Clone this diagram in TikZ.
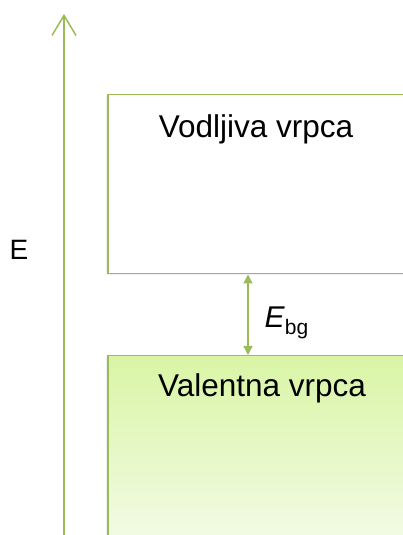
\documentclass[tikz,border=0pt]{standalone}
\usepackage{fontspec}
\setmainfont{Liberation Sans}
\usetikzlibrary{arrows.meta,shadows}
\definecolor{bandline}{RGB}{155,187,89}
\definecolor{valtop}{RGB}{217,245,165}
\definecolor{valbot}{RGB}{244,252,234}
\tikzset{
  band/.style={draw=bandline, line width=1.5pt, anchor=north west, inner sep=0pt,
    drop shadow={opacity=0.12, shadow xshift=-1.5pt, shadow yshift=-1.5pt}},
  bandtext/.style={font=\fontsize{31.5}{38}\selectfont},
  gaparrow/.style={draw=bandline, line width=1.3pt, {Triangle[length=9pt,width=9pt]}-{Triangle[length=9pt,width=9pt]}}
}
\begin{document}
\begin{tikzpicture}[x=1pt,y=1pt]
\useasboundingbox (0,0) rectangle (402,535);
% energy axis
\coordinate (axbot) at (64,-2);
\coordinate (axtop) at (64,521);
\draw[bandline, line width=1.5pt, -{Straight Barb[length=20pt,width=24pt,line width=1.5pt]}] (axbot) -- (axtop);
\node[font=\fontsize{28}{34}\selectfont] (elabel) at (19,285) {E};
% bands
\node[band, fill=white, minimum width=310pt, minimum height=179pt] (cond) at (107,441) {};
\node[band, top color=valtop, bottom color=valbot, minimum width=310pt, minimum height=200pt] (val) at (107,180) {};
\node[bandtext] (condtext) at (256,406) {Vodljiva vrpca};
\node[bandtext] (valtext) at (262,147) {Valentna vrpca};
% gap
\coordinate (gapx) at (248,0);
\draw[gaparrow] (cond.south -| gapx) -- (val.north -| gapx);
\node[font=\fontsize{30}{36}\selectfont, anchor=west] (gaplabel) at (261,212) {\textit{E}\textsubscript{bg}};
\end{tikzpicture}
\end{document}
